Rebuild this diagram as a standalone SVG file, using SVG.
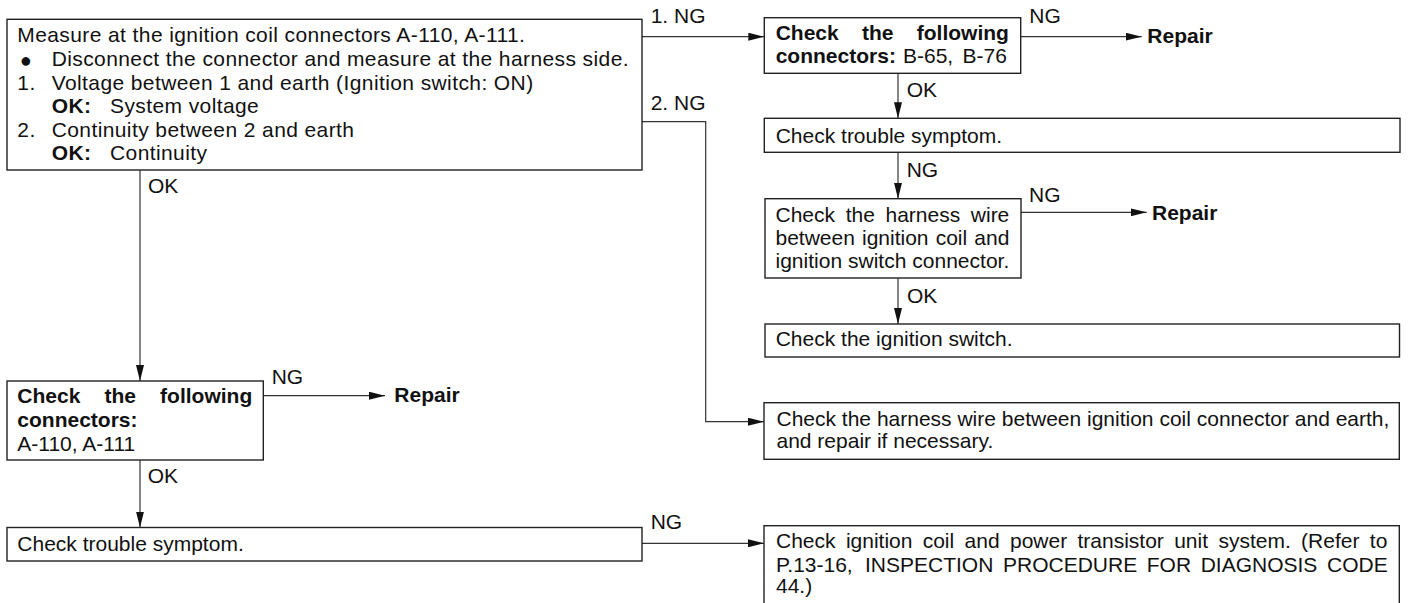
<svg xmlns="http://www.w3.org/2000/svg" width="1408" height="603" viewBox="0 0 1408 603">
<defs>
<marker id="ah" markerUnits="userSpaceOnUse" markerWidth="16" markerHeight="8" refX="16" refY="4" orient="auto"><path d="M0,0 L16,4 L0,8 z" fill="#111"/></marker>
</defs>
<style>
text{font-family:"Liberation Sans",Arial,Helvetica,sans-serif;font-size:21px;fill:#111}
.m{letter-spacing:0.4px}
.b{font-weight:bold}
.box{fill:#fff;stroke:#222;stroke-width:1.4}
.c{fill:none;stroke:#333;stroke-width:1.2;marker-end:url(#ah)}
</style>
<rect width="1408" height="603" fill="#fff"/>

<g id="connectors">
<path class="c" d="M642,36.7 H764.3"/>
<path class="c" d="M642,121.7 H705.7 V421.7 H764"/>
<path class="c" d="M1020.7,36.7 H1141.7"/>
<path class="c" d="M898,73.3 V118.3"/>
<path class="c" d="M898,152.3 V198.7"/>
<path class="c" d="M1021,212.3 H1146.7"/>
<path class="c" d="M898,278 V324"/>
<path class="c" d="M140,170 V381"/>
<path class="c" d="M263.3,395.7 H385"/>
<path class="c" d="M140,460 V527.5"/>
<path class="c" d="M642,543.3 H764"/>
<text x="650.7" y="23.3">1. NG</text>
<text x="650.7" y="110">2. NG</text>
<text x="1029.3" y="22.7">NG</text>
<text x="906.7" y="97.3">OK</text>
<text x="906.7" y="176.7">NG</text>
<text x="1029" y="201.7">NG</text>
<text x="907" y="302.7">OK</text>
<text x="148" y="193.3">OK</text>
<text x="271.7" y="383.7">NG</text>
<text x="147.7" y="482.7">OK</text>
<text x="650.7" y="529.3">NG</text>
</g>

<g id="n1">
<rect class="box" x="7" y="19.3" width="635" height="150.7"/>
<text class="m" x="17.3" y="42.3">Measure at the ignition coil connectors A-110, A-111.</text>
<text x="25.7" y="66.5" text-anchor="middle" style="font-size:20px">●</text>
<text class="m" x="51.7" y="65.7">Disconnect the connector and measure at the harness side.</text>
<text class="m" x="17.3" y="90">1.</text>
<text class="m" x="51.7" y="90">Voltage between 1 and earth (Ignition switch: ON)</text>
<text class="m" x="51.7" y="113.3"><tspan class="b">OK:</tspan><tspan x="110">System voltage</tspan></text>
<text class="m" x="17.3" y="136.7">2.</text>
<text class="m" x="51.7" y="136.7">Continuity between 2 and earth</text>
<text class="m" x="51.7" y="160"><tspan class="b">OK:</tspan><tspan x="110">Continuity</tspan></text>
</g>

<g id="n2">
<rect class="box" x="764.3" y="17.7" width="256.4" height="55.6"/>
<text class="b" y="40"><tspan x="775.7">Check</tspan><tspan x="862">the</tspan><tspan x="916.8">following</tspan></text>
<text y="63.3"><tspan class="b" x="775.7">connectors:</tspan><tspan x="903">B-65,</tspan><tspan x="962.5">B-76</tspan></text>
</g>

<g id="r1"><text class="b" x="1147.3" y="42.7">Repair</text></g>

<g id="n3">
<rect class="box" x="764.3" y="118.3" width="635.7" height="34"/>
<text x="775.7" y="143.3">Check trouble symptom.</text>
</g>

<g id="n4">
<rect class="box" x="765" y="198.7" width="256" height="79.3"/>
<text y="222.3"><tspan x="775.5">Check</tspan><tspan x="845.65">the</tspan><tspan x="885.5">harness</tspan><tspan x="970.8">wire</tspan></text>
<text y="244.5"><tspan x="775.5">between</tspan><tspan x="862">ignition</tspan><tspan x="935.65">coil</tspan><tspan x="974.3">and</tspan></text>
<text x="775.5" y="267.7" textLength="233.8" lengthAdjust="spacing">ignition switch connector.</text>
</g>

<g id="r2"><text class="b" x="1152" y="220">Repair</text></g>

<g id="n5">
<rect class="box" x="765" y="324" width="634.5" height="33"/>
<text x="775.7" y="346">Check the ignition switch.</text>
</g>

<g id="n6">
<rect class="box" x="764" y="402.7" width="635.3" height="56.6"/>
<text x="776.5" y="425.7">Check the harness wire between ignition coil connector and earth,</text>
<text x="776.5" y="448">and repair if necessary.</text>
</g>

<g id="n7">
<rect class="box" x="7" y="381" width="256.3" height="79"/>
<text class="b" y="403.3"><tspan x="17.3">Check</tspan><tspan x="104.5">the</tspan><tspan x="160.1">following</tspan></text>
<text class="b" x="17.3" y="427.3">connectors:</text>
<text x="17.3" y="451">A-110, A-111</text>
</g>

<g id="r3"><text class="b" x="394.3" y="401.7">Repair</text></g>

<g id="n8">
<rect class="box" x="7" y="527.5" width="635" height="33.5"/>
<text x="17.3" y="551">Check trouble symptom.</text>
</g>

<g id="n9">
<rect class="box" x="764" y="525.7" width="635.3" height="100"/>
<text y="548.3"><tspan x="776">Check</tspan><tspan x="845.9">ignition</tspan><tspan x="922.7">coil</tspan><tspan x="964.6">and</tspan><tspan x="1010">power</tspan><tspan x="1077.5">transistor</tspan><tspan x="1174.2">unit</tspan><tspan x="1218.4">system.</tspan><tspan x="1301.1">(Refer</tspan><tspan x="1369.8">to</tspan></text>
<text y="571.7"><tspan x="776">P.13-16,</tspan><tspan x="865">INSPECTION</tspan><tspan x="1003">PROCEDURE</tspan><tspan x="1146.8">FOR</tspan><tspan x="1200.7">DIAGNOSIS</tspan><tspan x="1327">CODE</tspan></text>
<text x="776" y="593">44.)</text>
</g>
</svg>
